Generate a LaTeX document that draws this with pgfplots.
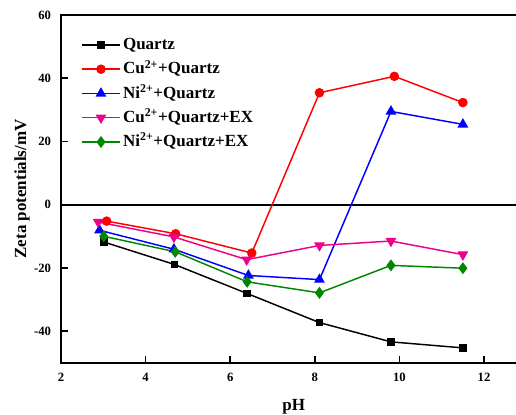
\documentclass[border=0pt]{standalone}
\usepackage{fontspec}
\setmainfont{Liberation Serif}
\usepackage{pgfplots}
\pgfplotsset{compat=1.18}
\definecolor{qgreen}{RGB}{0,135,0}

\begin{document}
\begin{tikzpicture}
\begin{axis}[
  name=ax,
  scale only axis,
  width=349pt, height=260.8pt,
  xmin=2, xmax=13, ymin=-50, ymax=60,
  xtick={2,4,...,12}, ytick={-40,-20,...,60},
  tick align=inside,
  xtick pos=bottom, ytick pos=left,
  major tick length=5pt,
  minor tick num=0,
  axis line style={line width=1.4pt},
  every tick/.style={black, line width=1.2pt},
  /pgf/number format/assume math mode=true,
  tick label style={font=\fontsize{9.5}{10}\selectfont\bfseries},
  xticklabel={\bfseries\pgfmathprintnumber{\tick}},
  yticklabel={\bfseries\pgfmathprintnumber{\tick}},
  xticklabel style={yshift=-4pt},
  yticklabel style={xshift=-4pt},
  xlabel={pH}, ylabel={Zeta potentials/mV},
  label style={font=\bfseries\fontsize{12.75}{14}\selectfont},
  xlabel style={at={(axis description cs:0.5,-0.136)}, anchor=base},
  ylabel style={at={(axis description cs:-0.0838,0.5)}, anchor=center, rotate=0},
  legend cell align=left,
  legend style={draw=none, fill=none, at={(axis cs:2.37,54.2)}, anchor=north west,
    font=\bfseries\fontsize{12.75}{15}\selectfont,
    nodes={inner sep=0pt, text height=10pt, text depth=3pt},
    row sep=5.2pt, column sep=1.5pt},
  legend image code/.code={
    \draw[mark repeat=2, mark phase=2] plot coordinates {(0pt,0pt) (14.5pt,0pt) (29pt,0pt)};
  },
  every axis plot/.append style={line width=1.1pt},
]
% zero reference line
\addplot[black, line width=1.3pt, forget plot] coordinates {(2,0) (13,0)};

\addplot[black, mark=square*, mark size=2.3pt] coordinates {
  (3.01,-11.8) (4.68,-18.9) (6.40,-28.1) (8.11,-37.3) (9.80,-43.4) (11.50,-45.3)};
\addlegendentry{Quartz}

\addplot[red, mark=*, mark size=3pt] coordinates {
  (3.08,-5.2) (4.71,-9.2) (6.51,-15.3) (8.11,35.4) (9.88,40.6) (11.50,32.3)};
\addlegendentry{Cu\textsuperscript{2+}+Quartz}

\addplot[blue, mark=triangle*, mark size=3.6pt] coordinates {
  (2.91,-8.1) (4.67,-14.1) (6.43,-22.4) (8.11,-23.7) (9.80,29.5) (11.50,25.4)};
\addlegendentry{Ni\textsuperscript{2+}+Quartz}

\addplot[magenta, mark=triangle*, mark size=3.6pt, mark options={rotate=180}] coordinates {
  (2.88,-5.5) (4.67,-10.2) (6.39,-17.4) (8.11,-12.9) (9.80,-11.5) (11.50,-15.8)};
\addlegendentry{Cu\textsuperscript{2+}+Quartz+EX}

\addplot[qgreen, mark=diamond*, mark size=3.6pt] coordinates {
  (3.01,-10.0) (4.70,-14.9) (6.40,-24.4) (8.11,-27.9) (9.80,-19.2) (11.50,-20.1)};
\addlegendentry{Ni\textsuperscript{2+}+Quartz+EX}
\end{axis}
\pgfresetboundingbox
\path[use as bounding box] ([xshift=-45.75pt, yshift=-38.5pt]ax.south west)
  rectangle ([xshift=341.25pt, yshift=11.25pt]ax.north west);
\end{tikzpicture}
\end{document}
